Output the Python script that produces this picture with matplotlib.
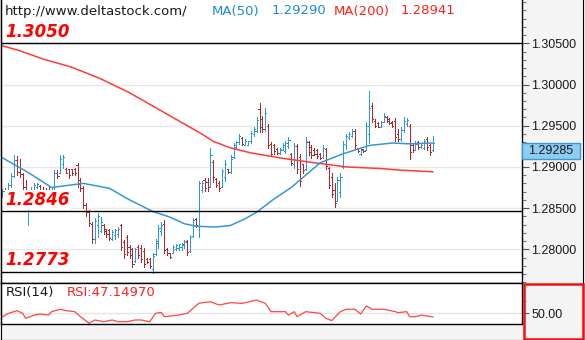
import matplotlib
matplotlib.use("Agg")
import matplotlib.pyplot as plt
from matplotlib.patches import Rectangle
from matplotlib.lines import Line2D
from matplotlib.ticker import MultipleLocator, FormatStrFormatter, FixedLocator
import matplotlib.transforms as mtransforms

# --- OHLC bars, oldest first ---
opens = [1.2864, 1.2871, 1.2868, 1.2878, 1.2889, 1.2908, 1.2894, 1.2891, 1.2876, 1.2860,
         1.2866, 1.2872, 1.2875, 1.2877, 1.2870, 1.2872, 1.2872, 1.2856, 1.2872, 1.2893,
         1.2892, 1.2904, 1.2898, 1.2897, 1.2897, 1.2898, 1.2902, 1.2884, 1.2874, 1.2854,
         1.2845, 1.2831, 1.2812, 1.2830, 1.2822, 1.2830, 1.2825, 1.2824, 1.2813, 1.2817,
         1.2818, 1.2829, 1.2809, 1.2815, 1.2803, 1.2800, 1.2786, 1.2803, 1.2802, 1.2798,
         1.2788, 1.2788, 1.2776, 1.2794, 1.2808, 1.2822, 1.2831, 1.2800, 1.2795, 1.2796,
         1.2800, 1.2802, 1.2803, 1.2805, 1.2810, 1.2798, 1.2816, 1.2837, 1.2828, 1.2872,
         1.2884, 1.2882, 1.2876, 1.2906, 1.2885, 1.2880, 1.2876, 1.2888, 1.2898, 1.2894,
         1.2912, 1.2924, 1.2930, 1.2935, 1.2927, 1.2927, 1.2931, 1.2940, 1.2944, 1.2970,
         1.2958, 1.2946, 1.2950, 1.2928, 1.2926, 1.2922, 1.2917, 1.2921, 1.2919, 1.2925,
         1.2916, 1.2904, 1.2925, 1.2912, 1.2903, 1.2897, 1.2930, 1.2924, 1.2921, 1.2920,
         1.2916, 1.2912, 1.2922, 1.2899, 1.2888, 1.2872, 1.2858, 1.2870, 1.2900, 1.2926,
         1.2936, 1.2938, 1.2944, 1.2923, 1.2916, 1.2922, 1.2920, 1.2940, 1.2974, 1.2956,
         1.2953, 1.2949, 1.2955, 1.2961, 1.2958, 1.2955, 1.2956, 1.2940, 1.2934, 1.2945,
         1.2952, 1.2950, 1.2927, 1.2921, 1.2930, 1.2924, 1.2923, 1.2934, 1.2927, 1.2920]
highs = [1.2873, 1.2874, 1.2880, 1.2892, 1.2914, 1.2913, 1.2910, 1.2893, 1.2884, 1.2869,
         1.2875, 1.2880, 1.2880, 1.2878, 1.2875, 1.2874, 1.2875, 1.2875, 1.2896, 1.2896,
         1.2914, 1.2914, 1.2899, 1.2898, 1.2898, 1.2899, 1.2905, 1.2886, 1.2877, 1.2856,
         1.2848, 1.2833, 1.2838, 1.2844, 1.2839, 1.2831, 1.2825, 1.2825, 1.2823, 1.2825,
         1.2827, 1.2831, 1.2811, 1.2817, 1.2805, 1.2801, 1.2802, 1.2805, 1.2805, 1.2801,
         1.2789, 1.2789, 1.2795, 1.2813, 1.2829, 1.2833, 1.2835, 1.2802, 1.2796, 1.2805,
         1.2807, 1.2807, 1.2808, 1.2811, 1.2811, 1.2817, 1.2838, 1.2838, 1.2883, 1.2883,
         1.2886, 1.2887, 1.2923, 1.2908, 1.2886, 1.2883, 1.2898, 1.2908, 1.2898, 1.2914,
         1.2929, 1.2932, 1.2940, 1.2936, 1.2934, 1.2932, 1.2944, 1.2948, 1.2960, 1.2977,
         1.2962, 1.2971, 1.2952, 1.2930, 1.2928, 1.2923, 1.2923, 1.2929, 1.2932, 1.2936,
         1.2917, 1.2929, 1.2928, 1.2916, 1.2904, 1.2936, 1.2932, 1.2926, 1.2923, 1.2922,
         1.2917, 1.2926, 1.2923, 1.2900, 1.2892, 1.2880, 1.2888, 1.2893, 1.2932, 1.2940,
         1.2942, 1.2946, 1.2946, 1.2923, 1.2923, 1.2922, 1.2954, 1.2992, 1.2977, 1.2958,
         1.2954, 1.2956, 1.2965, 1.2962, 1.2959, 1.2956, 1.2959, 1.2946, 1.2948, 1.2960,
         1.2959, 1.2952, 1.2929, 1.2932, 1.2932, 1.2929, 1.2934, 1.2936, 1.2928, 1.2938]
lows = [1.2863, 1.2866, 1.2867, 1.2876, 1.2888, 1.2890, 1.2888, 1.2872, 1.2859, 1.2829,
        1.2859, 1.2871, 1.2874, 1.2865, 1.2863, 1.2865, 1.2851, 1.2850, 1.2872, 1.2886,
        1.2892, 1.2899, 1.2892, 1.2886, 1.2890, 1.2890, 1.2875, 1.2871, 1.2850, 1.2840,
        1.2828, 1.2808, 1.2808, 1.2815, 1.2821, 1.2819, 1.2815, 1.2811, 1.2811, 1.2813,
        1.2815, 1.2799, 1.2789, 1.2793, 1.2790, 1.2778, 1.2784, 1.2789, 1.2784, 1.2778,
        1.2783, 1.2777, 1.2771, 1.2793, 1.2802, 1.2817, 1.2795, 1.2793, 1.2789, 1.2795,
        1.2799, 1.2799, 1.2799, 1.2801, 1.2793, 1.2797, 1.2815, 1.2827, 1.2815, 1.2869,
        1.2871, 1.2871, 1.2875, 1.2882, 1.2875, 1.2871, 1.2875, 1.2883, 1.2893, 1.2892,
        1.2911, 1.2922, 1.2928, 1.2926, 1.2926, 1.2926, 1.2929, 1.2938, 1.2942, 1.2942,
        1.2942, 1.2944, 1.2923, 1.2913, 1.2916, 1.2916, 1.2916, 1.2920, 1.2917, 1.2923,
        1.2902, 1.2899, 1.2893, 1.2877, 1.2892, 1.2896, 1.2914, 1.2911, 1.2914, 1.2911,
        1.2910, 1.2911, 1.2898, 1.2874, 1.2863, 1.2851, 1.2858, 1.2863, 1.2899, 1.2922,
        1.2934, 1.2936, 1.2923, 1.2918, 1.2914, 1.2918, 1.2920, 1.2929, 1.2954, 1.2948,
        1.2948, 1.2948, 1.2955, 1.2954, 1.2952, 1.2948, 1.2932, 1.2932, 1.2932, 1.2942,
        1.2950, 1.2910, 1.2918, 1.2920, 1.2922, 1.2923, 1.2922, 1.2920, 1.2914, 1.2919]
closes = [1.2871, 1.2868, 1.2878, 1.2889, 1.2908, 1.2894, 1.2891, 1.2876, 1.2864, 1.2866,
          1.2872, 1.2878, 1.2879, 1.2868, 1.2866, 1.2867, 1.2856, 1.2872, 1.2893, 1.2889,
          1.2910, 1.2912, 1.2893, 1.2890, 1.2892, 1.2893, 1.2879, 1.2874, 1.2854, 1.2845,
          1.2832, 1.2812, 1.2834, 1.2840, 1.2833, 1.2822, 1.2818, 1.2814, 1.2821, 1.2823,
          1.2825, 1.2803, 1.2794, 1.2797, 1.2793, 1.2782, 1.2800, 1.2793, 1.2788, 1.2782,
          1.2785, 1.2780, 1.2792, 1.2810, 1.2826, 1.2830, 1.2799, 1.2795, 1.2791, 1.2803,
          1.2805, 1.2806, 1.2807, 1.2809, 1.2797, 1.2815, 1.2835, 1.2829, 1.2880, 1.2880,
          1.2874, 1.2875, 1.2915, 1.2888, 1.2878, 1.2874, 1.2895, 1.2903, 1.2894, 1.2910,
          1.2926, 1.2930, 1.2937, 1.2928, 1.2932, 1.2931, 1.2941, 1.2946, 1.2957, 1.2948,
          1.2946, 1.2966, 1.2927, 1.2916, 1.2919, 1.2917, 1.2922, 1.2927, 1.2929, 1.2933,
          1.2905, 1.2925, 1.2897, 1.2883, 1.2896, 1.2932, 1.2918, 1.2914, 1.2916, 1.2913,
          1.2911, 1.2923, 1.2901, 1.2878, 1.2867, 1.2856, 1.2884, 1.2888, 1.2928, 1.2937,
          1.2940, 1.2944, 1.2926, 1.2919, 1.2921, 1.2919, 1.2950, 1.2972, 1.2958, 1.2950,
          1.2949, 1.2954, 1.2962, 1.2956, 1.2953, 1.2950, 1.2936, 1.2934, 1.2945, 1.2956,
          1.2957, 1.2918, 1.2921, 1.2928, 1.2924, 1.2927, 1.2931, 1.2924, 1.2918, 1.29285]

# moving averages (bar index, value)
ma50_at = [0, 9, 17, 28, 37, 44, 52, 58, 63, 67, 74, 79, 84, 88, 94, 100, 107, 110,
           118, 127, 135, 141, 149]
ma50 = [1.2911, 1.2893, 1.2875, 1.2880, 1.2874, 1.2860, 1.2846, 1.2839, 1.2831, 1.2828,
        1.2827, 1.2829, 1.2837, 1.2845, 1.2861, 1.2875, 1.2896, 1.2905, 1.2916, 1.2926,
        1.2929, 1.2928, 1.29290]
ma200_at = [0, 6, 14, 24, 34, 44, 55, 62, 69, 73, 79, 86, 96, 108, 119, 131, 138, 149]
ma200 = [1.3047, 1.3041, 1.3031, 1.3021, 1.3007, 1.2990, 1.2968, 1.2954, 1.2940, 1.2931,
         1.2923, 1.2917, 1.2911, 1.2905, 1.2900, 1.2898, 1.2896, 1.28941]

# RSI(14)
rsi_at = [0, 2, 5, 7, 8, 11, 13, 16, 17, 20, 22, 25, 27, 30, 32, 35, 38, 40, 43, 46,
          48, 51, 53, 55, 56, 61, 64, 66, 68, 72, 75, 79, 83, 88, 91, 93, 98, 99, 101, 102,
          105, 110, 112, 114, 117, 119, 122, 124, 126, 128, 132, 136, 137, 140, 141, 143, 145, 149]
rsi = [47.3, 49.9, 52.1, 50.0, 46.0, 48.6, 49.4, 48.6, 51.3, 53.2, 52.1, 51.3, 47.3, 42.1,
       44.7, 43.3, 44.7, 43.3, 43.3, 44.7, 44.7, 43.3, 50.0, 50.7, 47.3, 48.6, 50.0, 54.0,
       58.0, 59.2, 56.6, 58.4, 57.9, 60.5, 57.9, 51.3, 51.3, 48.6, 51.3, 47.3, 51.3, 50.0,
       46.0, 44.2, 51.3, 53.2, 53.2, 49.4, 55.8, 53.2, 53.2, 51.3, 50.5, 51.3, 47.3, 47.3,
       48.6, 47.1497]

# support / resistance levels and price scale labels
levels = [1.3050, 1.2846, 1.2773]
price_ticks = [1.280, 1.285, 1.290, 1.295, 1.300, 1.305]

UP = "#2b9ad8"
DOWN = "#b0282a"
MA50_C = "#3398d6"
MA200_C = "#ff3a3a"

W, H = 585, 340
fig = plt.figure(figsize=(W / 100, H / 100), dpi=100, facecolor="#f4f4f4")


def px_box(x0, y0, x1, y1):
    return [x0 / W, 1 - y1 / H, (x1 - x0) / W, (y1 - y0) / H]


ax = fig.add_axes(px_box(0.5, 0, 522, 283.3))
rax = fig.add_axes(px_box(0.5, 283.3, 522, 324.3))

# ---- price panel: 1px bars with open/close ticks ----
xs = list(range(len(closes)))
cols = [UP if c >= o else DOWN for o, c in zip(opens, closes)]
bars = [
    ax.vlines(xs, lows, highs, colors=cols, linewidth=0.72, antialiased=False),
    ax.hlines(opens, [x - 0.4 for x in xs], xs, colors=cols, linewidth=0.72, antialiased=False),
    ax.hlines(closes, xs, [x + 0.4 for x in xs], colors=cols, linewidth=0.72, antialiased=False),
]
for b in bars:
    b.set_capstyle("butt")

ax.plot(ma200_at, ma200, color=MA200_C, lw=1.1)
ax.plot(ma50_at, ma50, color=MA50_C, lw=1.1)

for lv in levels:
    ax.axhline(lv, color="black", lw=1.0, zorder=4)
    ax.annotate(f"{lv:.4f}", xy=(0, lv), xycoords=mtransforms.blended_transform_factory(ax.transAxes, ax.transData),
                xytext=(3.5, 4.5), textcoords="offset points", va="baseline", ha="left",
                fontsize=12, fontweight="bold", fontstyle="italic", color="#ff0000",
                family="DejaVu Sans", zorder=6,
                bbox=dict(facecolor="white", edgecolor="none", pad=0.5))

ax.set_xlim(-0.69, 179.9)
ax.set_ylim(1.27587, 1.31026)
ax.set_xticks([])
ax.yaxis.tick_right()
ax.set_yticks(price_ticks)
ax.yaxis.set_minor_locator(MultipleLocator(0.001))
ax.yaxis.set_major_formatter(FormatStrFormatter("%.5f"))
ax.tick_params(axis="y", which="major", length=5, width=0.8, color="#555555", pad=1.5,
               labelsize=9, labelcolor="#1a1a1a")
ax.tick_params(axis="y", which="minor", length=3, width=0.8, color="#777777")
for lab in ax.get_yticklabels():
    lab.set_family("Liberation Sans")
ax.grid(axis="y", which="major", color="#e8e8e8", lw=1.0, zorder=0)
ax.set_axisbelow(True)
ax.spines["top"].set_visible(False)
for s in ("left", "right", "bottom"):
    ax.spines[s].set_color("black")
    ax.spines[s].set_linewidth(1.0)

# header
fig.text(5 / W, 1 - 11 / H, "http://www.deltastock.com/", fontsize=9.5, color="#1a1a1a",
         va="center", ha="left", family="DejaVu Sans")
fig.text(212 / W, 1 - 11 / H, "MA(50)", fontsize=9.5, color="#1a8ad6", va="center", family="DejaVu Sans")
fig.text(272 / W, 1 - 11 / H, f"{ma50[-1]:.5f}", fontsize=9.5, color="#1a8ad6", va="center", family="DejaVu Sans")
fig.text(334 / W, 1 - 11 / H, "MA(200)", fontsize=9.5, color="#ff2020", va="center", family="DejaVu Sans")
fig.text(401 / W, 1 - 11 / H, f"{ma200[-1]:.5f}", fontsize=9.5, color="#ff2020", va="center", family="DejaVu Sans")

# current price tag
_, ytop = ax.transData.transform((0, closes[-1]))
fig.patches.append(Rectangle((522 / W, (ytop - 16) / H), 58 / W, 16 / H, transform=fig.transFigure,
                             facecolor="#8ccdf1", edgecolor="#3a98d8", lw=1.0, zorder=5))
fig.text(551 / W, (ytop - 8) / H, f"{closes[-1]:.5f}", ha="center", va="center", fontsize=9,
         color="#1a1a1a", family="Liberation Sans", zorder=6)

# ---- RSI panel ----
rax.plot(rsi_at, rsi, color="#ff4545", lw=0.9)
rax.axhline(50, color="#e4e4e4", lw=1.0, zorder=0)
rax.set_xlim(-0.69, 179.9)
rax.set_ylim(41.27, 73.8)
rax.set_xticks([])
rax.yaxis.tick_right()
rax.yaxis.set_major_locator(FixedLocator([50]))
rax.yaxis.set_minor_locator(FixedLocator([60]))
rax.yaxis.set_major_formatter(FormatStrFormatter("%.2f"))
rax.tick_params(axis="y", which="major", length=5, width=0.8, color="#555555", pad=1.5,
                labelsize=9, labelcolor="#1a1a1a")
rax.tick_params(axis="y", which="minor", length=3, width=0.8, color="#777777")
for lab in rax.get_yticklabels():
    lab.set_family("Liberation Sans")
for s in rax.spines.values():
    s.set_color("black")
    s.set_linewidth(1.0)
rax.text(5 / 521.5, 0.77, "RSI(14)", transform=rax.transAxes, fontsize=9.5, color="#1a1a1a",
         va="center", family="DejaVu Sans")
rax.text(66 / 521.5, 0.77, f"RSI:{rsi[-1]:.5f}", transform=rax.transAxes, fontsize=9.5,
         color="#ff2020", va="center", family="DejaVu Sans")

# outer frame and highlighted indicator scale
for xy in (([0.5, 0.5], [0, H]), ([0, 583], [0.5, 0.5]), ([582.5, 582.5], [0, H])):
    fig.add_artist(Line2D([v / W for v in xy[0]], [v / H for v in xy[1]], color="black", lw=0.8))
fig.patches.append(Rectangle((523.5 / W, 1.5 / H), 59.5 / W, 54.5 / H, transform=fig.transFigure,
                             facecolor="none", edgecolor="#ee1111", lw=1.8, zorder=7))

fig.savefig("out.png", dpi=100, facecolor=fig.get_facecolor())
